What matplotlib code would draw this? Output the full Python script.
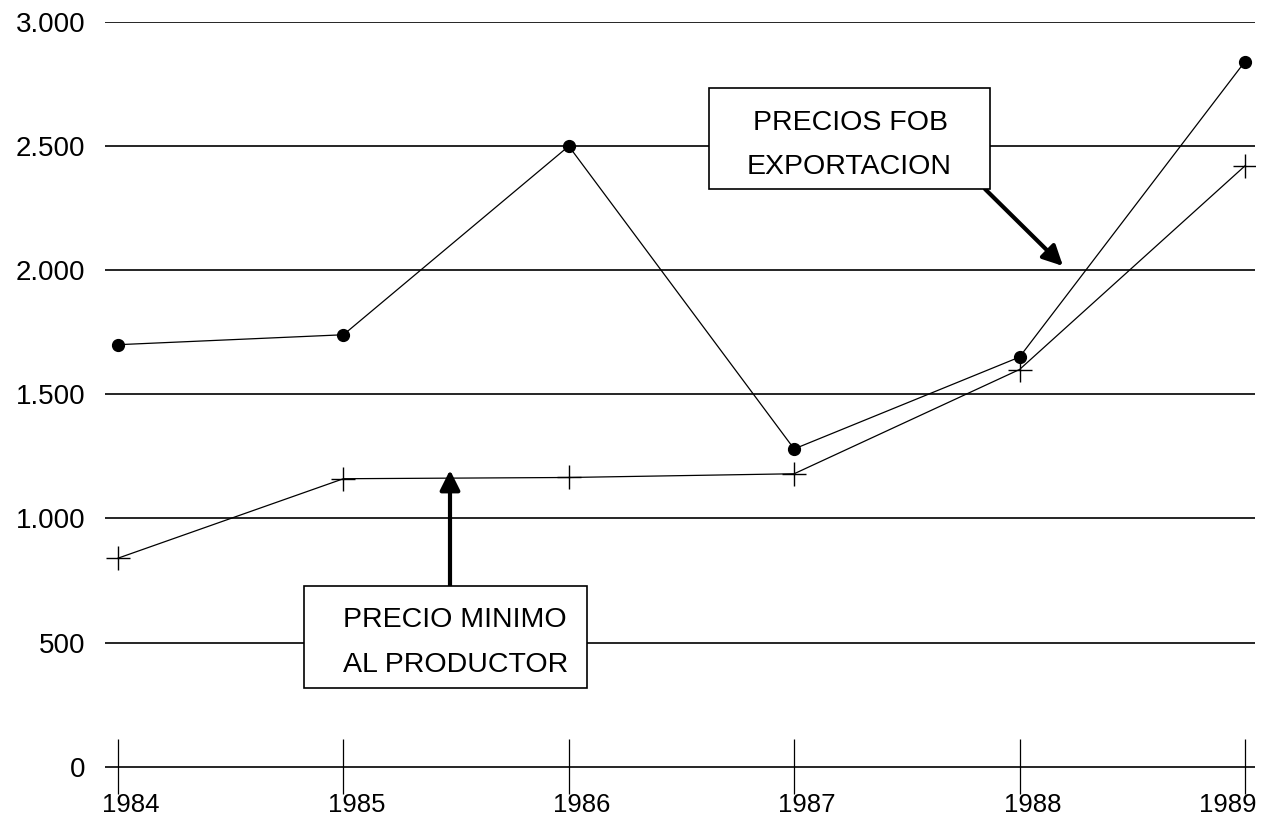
import matplotlib
matplotlib.use("Agg")
import matplotlib.pyplot as plt
import matplotlib.transforms as mtransforms
from matplotlib.patches import Rectangle

years = ["1984", "1985", "1986", "1987", "1988", "1989"]
fob_prices = [1700, 1740, 2500, 1280, 1650, 2840]
producer_prices = [840, 1160, 1165, 1180, 1600, 2420]
y_ticks = [0, 500, 1000, 1500, 2000, 2500, 3000]
y_tick_labels = ["0", "500", "1.000", "1.500", "2.000", "2.500", "3.000"]

plt.rcParams['font.family'] = ['Liberation Sans', 'DejaVu Sans']

W, H = 1271, 822
fig = plt.figure(figsize=(W/100, H/100), dpi=100)
ax = fig.add_axes([105/W, 1-789/H, (1255-105)/W, (789-22)/H])

x = list(range(len(years)))
ax.set_xlim(-0.058, 5.045)
ax.set_ylim(-90, 3000)

for v in y_ticks:
    ax.axhline(v, color='black', lw=1.2, zorder=1)
ax.vlines(x, -110, 110, color='black', lw=0.9, clip_on=False, zorder=2)

ax.plot(x, fob_prices, color='black', lw=0.9, marker='o', ms=8.5, zorder=3)
ax.plot(x, producer_prices, color='black', lw=0.9, marker='+', ms=17, mew=1.0, zorder=3)

for s in ax.spines.values():
    s.set_visible(False)
ax.set_yticks(y_ticks)
ax.set_yticklabels(y_tick_labels, fontsize=20)
ax.set_xticks(x)
ax.set_xticklabels(years, fontsize=18.5)
ax.tick_params(axis='both', length=0)
ax.tick_params(axis='y', pad=14)
ax.tick_params(axis='x', pad=3)

labels = ax.get_xticklabels()
for i, lab in enumerate(labels):
    dx = 13 if i < len(labels) - 1 else 13
    if i == len(labels) - 1:
        lab.set_ha('right')
        dx = 12
    lab.set_transform(lab.get_transform() + mtransforms.ScaledTranslation(dx/100, 0, fig.dpi_scale_trans))

def fx(px):
    return px / W
def fy(py):
    return 1 - py / H

# FOB box
fig.patches.append(Rectangle((fx(709), fy(189)), (990-709)/W, (189-88)/H,
                             transform=fig.transFigure, facecolor='white',
                             edgecolor='black', lw=1.2, zorder=5))
fig.text(fx(850), fy(123), "PRECIOS FOB", ha='center', va='center', fontsize=20.5, zorder=6)
fig.text(fx(849), fy(167), "EXPORTACION", ha='center', va='center', fontsize=20.5, zorder=6)
ax.annotate("", xy=(1063, H-266), xycoords='figure pixels',
            xytext=(985, H-189), textcoords='figure pixels',
            arrowprops=dict(arrowstyle='-|>', lw=3, mutation_scale=30, color='black',
                            shrinkA=0, shrinkB=0))

# Producer box
fig.patches.append(Rectangle((fx(304), fy(688)), (587-304)/W, (688-586)/H,
                             transform=fig.transFigure, facecolor='white',
                             edgecolor='black', lw=1.2, zorder=5))
fig.text(fx(343), fy(620), "PRECIO MINIMO", ha='left', va='center', fontsize=20.5, zorder=6)
fig.text(fx(343), fy(665), "AL PRODUCTOR", ha='left', va='center', fontsize=20.5, zorder=6)
ax.annotate("", xy=(450, H-470), xycoords='figure pixels',
            xytext=(450, H-586), textcoords='figure pixels',
            arrowprops=dict(arrowstyle='-|>', lw=3, mutation_scale=30, color='black',
                            shrinkA=0, shrinkB=0))

fig.savefig("out.png", dpi=100, facecolor='white')
